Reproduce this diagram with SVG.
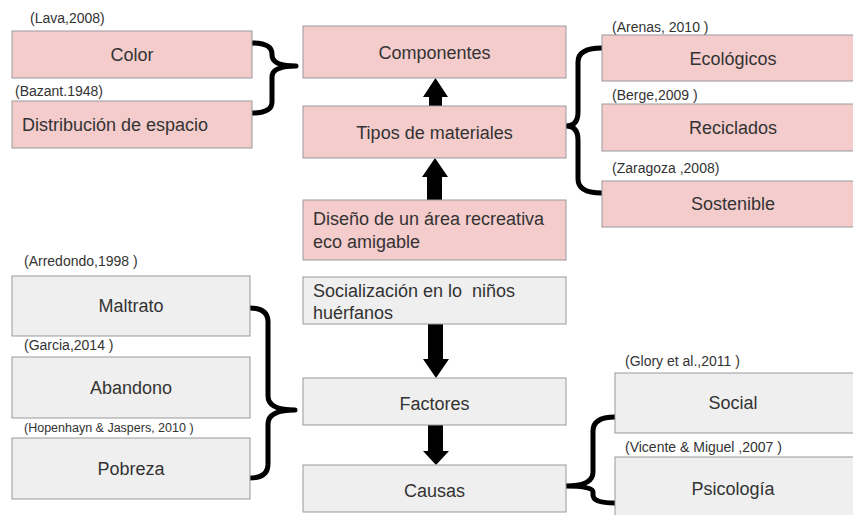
<svg xmlns="http://www.w3.org/2000/svg" width="853" height="515" viewBox="0 0 853 515">
<style>
.p{fill:#f4cccc;stroke:#999;stroke-width:1}
.g{fill:#efefef;stroke:#999;stroke-width:1}
.t{font-family:"Liberation Sans",Arial,sans-serif;font-size:18px;fill:#333}
.c{text-anchor:middle}
.s{font-family:"Liberation Sans",Arial,sans-serif;font-size:14px;fill:#333}
.xs{font-family:"Liberation Sans",Arial,sans-serif;font-size:12.5px;fill:#333}
.br{fill:none;stroke:#000;stroke-width:5;stroke-linejoin:round}
.ar{fill:#000}
</style>
<rect width="853" height="515" fill="#fff"/>
<g id="connectors">
<path class="br" d="M252,43 Q272,43 272,54 L272,55 Q272,66 296,66 Q272,66 272,77 L272,102 Q272,113 252,113"/>
<path class="br" d="M602,48 Q578,48 578,62 L578,112 Q578,126 566,126 Q578,126 578,140 L578,179 Q578,193 602,193"/>
<path class="br" d="M250,308 Q268,308 268,322 L268,396 Q268,410 295,410 Q268,410 268,424 L268,464 Q268,478 250,478"/>
<path class="br" d="M615,417 Q593,417 593,431 L593,472 Q593,486 566,486 Q593,486 593,492 L593,495 Q593,503 615,503"/>
<polygon class="ar" points="429,106 442,106 442,97 448,97 435.5,78 423,97 429,97"/>
<polygon class="ar" points="427,200 442,200 442,177 448,177 435,158 422,177 427,177"/>
<polygon class="ar" points="428,324 443,324 443,359 449,359 436,378 423,359 428,359"/>
<polygon class="ar" points="428,425 443,425 443,451 449,451 436,465 423,451 428,451"/>
</g>
<g id="color"><text class="s" x="30" y="23">(Lava,2008)</text><rect class="p" x="12" y="31" width="240" height="47"/><text class="t c" x="132" y="61">Color</text></g>
<g id="distribucion"><text class="s" x="15" y="96">(Bazant.1948)</text><rect class="p" x="12" y="101" width="240" height="47"/><text class="t" x="22" y="131">Distribución de espacio</text></g>
<g id="componentes"><rect class="p" x="303" y="26" width="263" height="52"/><text class="t c" x="434.5" y="59">Componentes</text></g>
<g id="tipos"><rect class="p" x="303" y="106" width="263" height="52"/><text class="t c" x="434.5" y="139">Tipos de materiales</text></g>
<g id="diseno"><rect class="p" x="303" y="200" width="263" height="60"/><text class="t" x="313" y="225">Diseño de un área recreativa</text><text class="t" x="313" y="248">eco amigable</text></g>
<g id="ecologicos"><text class="s" x="612" y="32">(Arenas, 2010 )</text><rect class="p" x="602" y="35" width="262" height="46"/><text class="t c" x="733" y="65">Ecológicos</text></g>
<g id="reciclados"><text class="s" x="612" y="100">(Berge,2009 )</text><rect class="p" x="602" y="104" width="262" height="47"/><text class="t c" x="733" y="134">Reciclados</text></g>
<g id="sostenible"><text class="s" x="612" y="173">(Zaragoza ,2008)</text><rect class="p" x="602" y="181" width="262" height="46"/><text class="t c" x="733" y="210">Sostenible</text></g>
<g id="maltrato"><text class="s" x="24" y="266">(Arredondo,1998 )</text><rect class="g" x="12" y="276" width="238" height="60"/><text class="t c" x="131" y="312">Maltrato</text></g>
<g id="abandono"><text class="s" x="24" y="350">(Garcia,2014 )</text><rect class="g" x="12" y="357" width="238" height="61"/><text class="t c" x="131" y="394">Abandono</text></g>
<g id="pobreza"><text class="xs" x="24" y="432">(Hopenhayn &amp; Jaspers, 2010 )</text><rect class="g" x="12" y="438" width="238" height="61"/><text class="t c" x="131" y="475">Pobreza</text></g>
<g id="socializacion"><rect class="g" x="303" y="277" width="263" height="47"/><text class="t" x="313" y="297" xml:space="preserve">Socialización en lo  niños</text><text class="t" x="313" y="319">huérfanos</text></g>
<g id="factores"><rect class="g" x="303" y="378" width="263" height="47"/><text class="t c" x="434.5" y="410">Factores</text></g>
<g id="causas"><rect class="g" x="303" y="465" width="263" height="47"/><text class="t c" x="434.5" y="497">Causas</text></g>
<g id="social"><text class="s" x="625" y="366">(Glory et al.,2011 )</text><rect class="g" x="615" y="373" width="249" height="60"/><text class="t c" x="733" y="409">Social</text></g>
<g id="psicologia"><text class="s" x="625" y="452">(Vicente &amp; Miguel ,2007 )</text><rect class="g" x="615" y="457" width="249" height="70"/><text class="t c" x="733" y="495">Psicología</text></g>
</svg>
